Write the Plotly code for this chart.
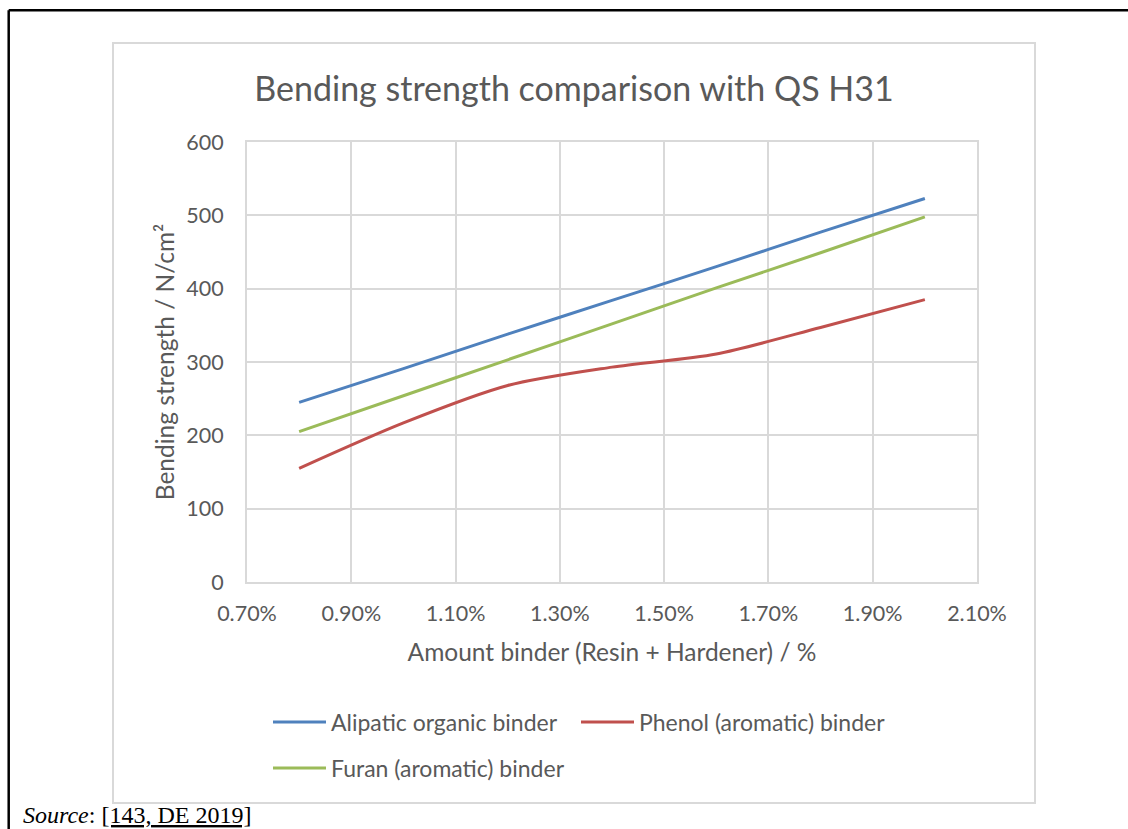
import plotly.graph_objects as go

# amount binder (fraction)
amount = [0.008, 0.010, 0.012, 0.014, 0.016, 0.018, 0.020]

alipatic = [245, 291, 338, 384, 430, 477, 523]
phenol = [155, 217, 268, 293, 311, 347, 385]
furan = [205, 254, 303, 352, 401, 449, 498]

names = ['Alipatic organic binder', 'Phenol (aromatic) binder', 'Furan (aromatic) binder']
colors = ['#4F81BD', '#C0504D', '#9BBB59']

W, H = 1128, 829
# plot area in pixels
L, R, T, B = 247, 977, 142, 582
GREY = '#595959'
GRID = '#d9d9d9'


def px2x(px):
    return (px - L) / (R - L)


def px2y(py):
    return (B - py) / (B - T)


fig = go.Figure()

series = [alipatic, phenol, furan]
legends = ['legend', 'legend2', 'legend3']
for vals, name, col, lg in zip(series, names, colors, legends):
    fig.add_trace(go.Scatter(
        x=amount, y=vals, name=name, mode='lines', showlegend=True,
        line=dict(color=col, width=3, shape='spline', smoothing=0.8),
        legend=lg))

leg_font = dict(family='Lato', size=23, color=GREY)
leg_common = dict(xanchor='left', yanchor='middle', font=leg_font,
                  bgcolor='rgba(0,0,0,0)', itemwidth=53)
fig.update_layout(
    width=W, height=H,
    margin=dict(l=L, r=W - R, t=T, b=H - B),
    paper_bgcolor='white', plot_bgcolor='white',
    font=dict(family='Lato', color=GREY),
    showlegend=True,
    title=dict(text='Bending strength comparison with QS H31',
               font=dict(family='Lato', size=34, color=GREY),
               x=574 / W, y=1 - 89 / H, xanchor='center', yanchor='middle',
               xref='container', yref='container'),
    legend=dict(x=px2x(268), y=px2y(722), **leg_common),
    legend2=dict(x=px2x(576), y=px2y(722), **leg_common),
    legend3=dict(x=px2x(268), y=px2y(768), **leg_common),
)

fig.update_xaxes(
    range=[0.007, 0.021], tick0=0.007, dtick=0.002, tickformat='.2%',
    showgrid=True, gridcolor=GRID, gridwidth=2,
    showline=True, linecolor=GRID, linewidth=2, mirror=True,
    zeroline=False, ticks='', ticklabelstandoff=11,
    tickfont=dict(family='Lato', size=21.5, color=GREY),
    title=dict(text='Amount binder (Resin + Hardener) / %',
               font=dict(family='Lato', size=24.5, color=GREY), standoff=19))

fig.update_yaxes(
    range=[0, 600], dtick=100,
    showgrid=True, gridcolor=GRID, gridwidth=2,
    showline=True, linecolor=GRID, linewidth=2, mirror=True,
    zeroline=False, ticks='', ticklabelstandoff=17,
    tickfont=dict(family='Lato', size=21.5, color=GREY),
    title=dict(text='Bending strength / N/cm²',
               font=dict(family='Lato', size=24.5, color=GREY), standoff=5))

# chart area border
fig.add_shape(type='rect', xref='paper', yref='paper',
              x0=px2x(113), x1=px2x(1035), y0=px2y(803), y1=px2y(43),
              line=dict(color=GRID, width=2), layer='below')
# document frame
fig.add_shape(type='line', xref='paper', yref='paper',
              x0=px2x(8.7), x1=px2x(1140), y0=px2y(10.3), y1=px2y(10.3),
              line=dict(color='black', width=2.5))
fig.add_shape(type='line', xref='paper', yref='paper',
              x0=px2x(8.7), x1=px2x(8.7), y0=px2y(10.3), y1=px2y(840),
              line=dict(color='black', width=2.5))

fig.add_annotation(text='<i>Source</i>: <u>[143, DE 2019]</u>',
                   xref='paper', yref='paper', x=px2x(21), y=px2y(815),
                   xanchor='left', yanchor='middle', showarrow=False,
                   font=dict(family='Liberation Serif', size=24, color='black'))

# drop the page's default body margin so the figure sits at the window corner
fig.write_html('out.html', config={'displayModeBar': False},
               post_script="document.body.style.margin = '0px';")
